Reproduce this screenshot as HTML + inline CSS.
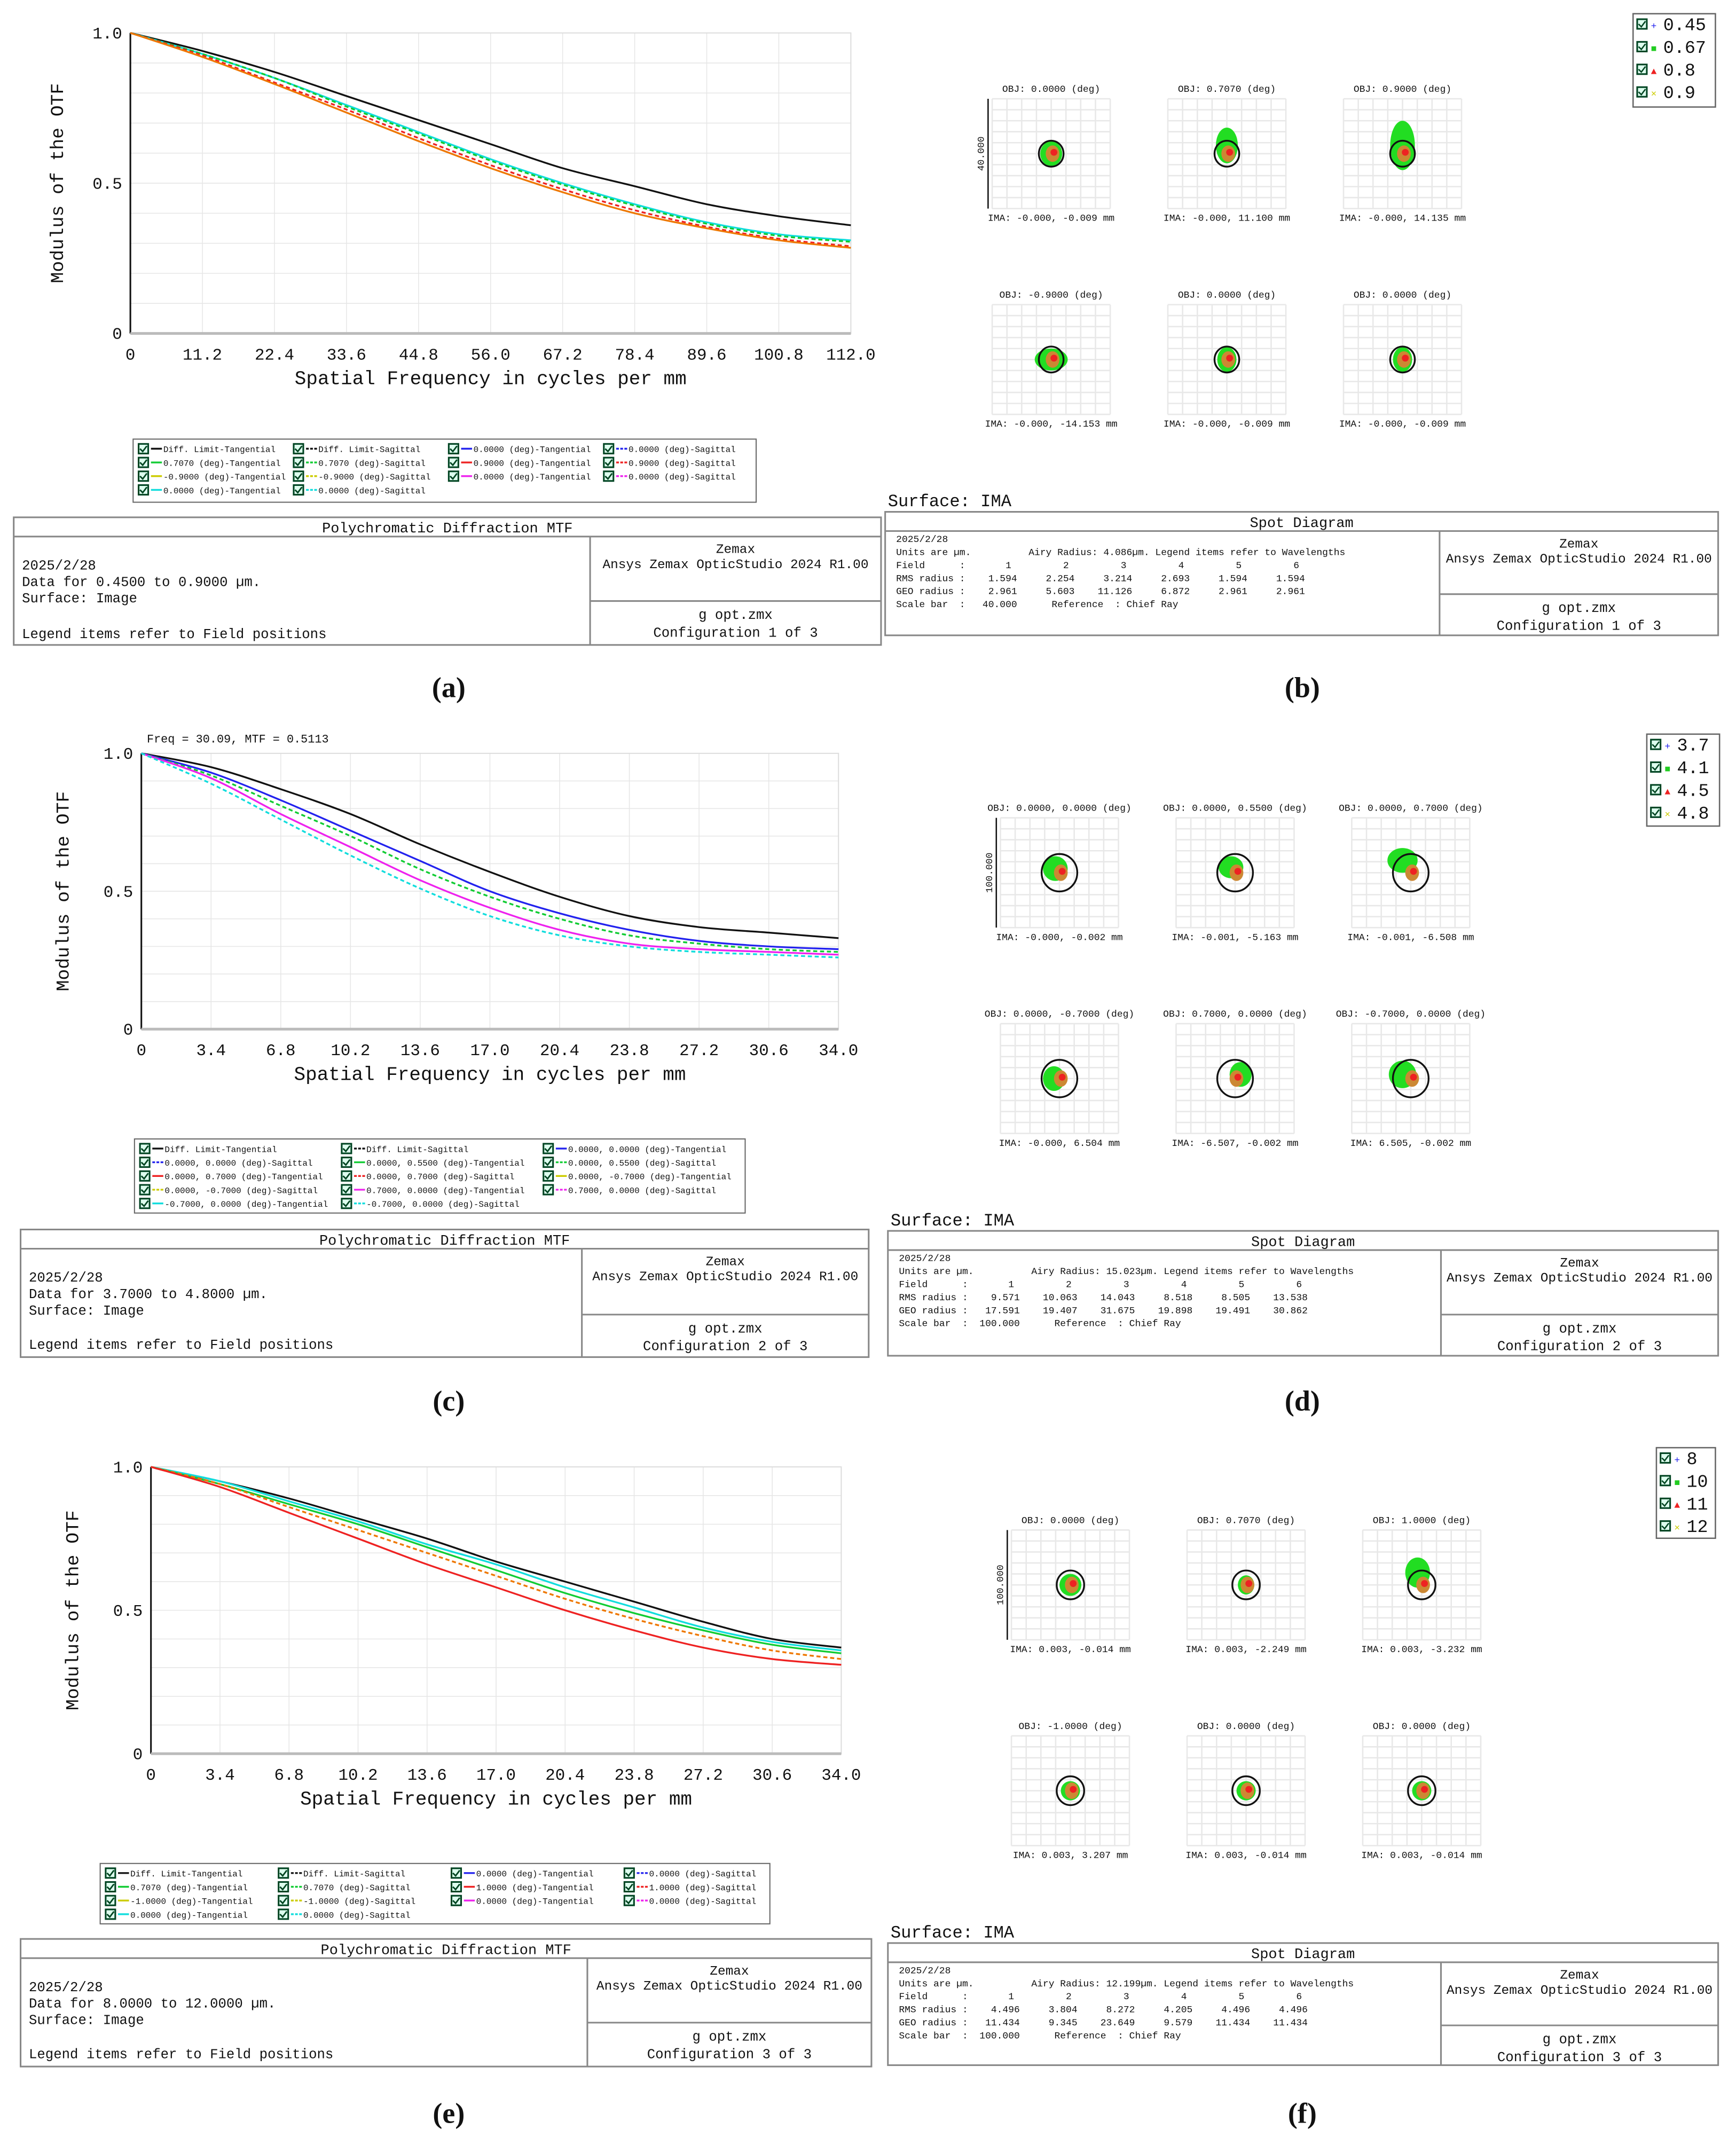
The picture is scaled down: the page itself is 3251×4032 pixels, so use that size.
<!DOCTYPE html>
<html><head><meta charset="utf-8"><style>
html,body{margin:0;padding:0;background:#fff;}
svg{display:block;}
text{font-family:"Liberation Mono",monospace;fill:#111;}
</style></head><body>
<svg id="fig" xmlns="http://www.w3.org/2000/svg" width="3251" height="4032" viewBox="0 0 1265 1569" preserveAspectRatio="none">
<rect width="1265" height="1569" fill="#fff"/>
</svg>
<script>
// ---- MTF data (values at each tick) ----
const ticksA = ["0","11.2","22.4","33.6","44.8","56.0","67.2","78.4","89.6","100.8","112.0"];
const ticksC = ["0","3.4","6.8","10.2","13.6","17.0","20.4","23.8","27.2","30.6","34.0"];
const ticksE = ["0","3.4","6.8","10.2","13.6","17.0","20.4","23.8","27.2","30.6","34.0"];
const mtfA_diff = [1,.94,.87,.79,.71,.63,.55,.49,.43,.39,.36];
const mtfA_cyan = [1,.93,.85,.76,.67,.58,.50,.43,.37,.33,.31];
const mtfA_green = [1,.93,.85,.755,.665,.575,.495,.425,.365,.325,.305];
const mtfA_orange = [1,.92,.83,.735,.64,.55,.47,.40,.35,.31,.285];
const mtfA_red = [1,.925,.835,.745,.65,.56,.48,.41,.355,.315,.29];
const mtfC_diff = [1,.95,.87,.78,.67,.57,.48,.41,.37,.35,.33];
const mtfC_blue = [1,.93,.83,.72,.61,.50,.42,.36,.32,.30,.29];
const mtfC_green = [1,.92,.81,.70,.58,.48,.40,.34,.31,.29,.28];
const mtfC_magenta = [1,.91,.78,.66,.54,.44,.36,.31,.29,.28,.27];
const mtfC_cyan = [1,.89,.76,.63,.51,.41,.34,.30,.28,.27,.26];
const mtfE_diff = [1,.95,.89,.82,.75,.67,.60,.53,.46,.40,.37];
const mtfE_cyan = [1,.95,.88,.81,.73,.66,.58,.51,.44,.39,.36];
const mtfE_green = [1,.94,.87,.80,.72,.64,.56,.49,.43,.38,.35];
const mtfE_orange = [1,.94,.86,.78,.70,.62,.54,.47,.41,.36,.33];
const mtfE_red = [1,.93,.84,.75,.66,.58,.50,.43,.37,.33,.31];

const NS="http://www.w3.org/2000/svg";
const svg=document.getElementById('fig');
function mk(tag,attrs,parent,txt){const e=document.createElementNS(NS,tag);for(const k in attrs)e.setAttribute(k,attrs[k]);if(txt!=null)e.textContent=txt;(parent||svg).appendChild(e);return e;}
function smooth(P){let d=`M${P[0][0]},${P[0][1]}`;for(let i=0;i<P.length-1;i++){const p0=P[Math.max(0,i-1)],p1=P[i],p2=P[i+1],p3=P[Math.min(P.length-1,i+2)];
 const c1=[p1[0]+(p2[0]-p0[0])/6,p1[1]+(p2[1]-p0[1])/6],c2=[p2[0]-(p3[0]-p1[0])/6,p2[1]-(p3[1]-p1[1])/6];
 d+=` C${c1[0]},${c1[1]} ${c2[0]},${c2[1]} ${p2[0]},${p2[1]}`;}return d;}

function mtfPanel(name,P,ticks,series,legendRows,cfg){
  const g=mk('g',{});
  
  
  const xs=i=>P.x0+(P.x1-P.x0)*i/(ticks.length-1);
  const ys=v=>P.y1-(P.y1-P.y0)*v;
  for(let i=1;i<ticks.length;i++) mk('line',{x1:xs(i),x2:xs(i),y1:P.y0,y2:P.y1,stroke:'#e6e6e6','stroke-width':0.6},g);
  for(let i=1;i<10;i++){mk('line',{x1:P.x0,x2:P.x1,y1:ys(i/10),y2:ys(i/10),stroke:'#e6e6e6','stroke-width':0.6},g);}
  mk('rect',{x:P.x0,y:P.y0,width:P.x1-P.x0,height:P.y1-P.y0,fill:'none',stroke:'#ddd','stroke-width':0.8},g);
  const ax=mk('line',{x1:P.x0,x2:P.x0,y1:P.y0,y2:P.y1,stroke:'#111','stroke-width':1.2},g);
  
  const bx=mk('line',{x1:P.x0,x2:P.x1,y1:P.y1,y2:P.y1,stroke:'#bbb','stroke-width':2},g);
  
  ticks.forEach((t,i)=>{const e=mk('text',{x:xs(i),y:P.y1+19,'font-size':12,'text-anchor':'middle'},g,t);
    });
  [["1.0",1],["0.5",.5],["0",0]].forEach(([t,v])=>{const e=mk('text',{x:P.x0-6,y:ys(v)+4,'font-size':12,'text-anchor':'end'},g,t);
    });
  const yt=mk('text',{x:0,y:0,'font-size':13.5,'text-anchor':'middle',transform:`translate(${P.ylx},${(P.y0+P.y1)/2}) rotate(-90)`},g,'Modulus of the OTF');
  
  const xt=mk('text',{x:(P.x0+P.x1)/2,y:P.y1+37,'font-size':14,'text-anchor':'middle'},g,'Spatial Frequency in cycles per mm');
  
  series.forEach(s=>{
    const pts=s.v.map((v,i)=>[xs(i),ys(v)]);
    const l=mk('path',{d:smooth(pts),fill:'none',stroke:s.c,'stroke-width':1.3,'stroke-dasharray':s.d||'none'},g);
    
  });
  const L=cfg.leg;
  const lb=mk('rect',{x:L.x,y:L.y,width:L.w,height:L.h,fill:'#fff',stroke:'#666','stroke-width':0.8},g);
  
  legendRows.forEach((row,r)=>row.forEach((it,c)=>{
    const x=L.x+4+c*L.cw, y=L.y+7+r*10;
    const cb=mk('rect',{x:x,y:y-3.5,width:7,height:7,fill:'#dfe',stroke:'#042','stroke-width':1.2},g);
    
    mk('path',{d:`M${x+1} ${y} l2 2 l3 -4`,stroke:'#042',fill:'none','stroke-width':1.1},g);
    mk('line',{x1:x+9,x2:x+17,y1:y,y2:y,stroke:it[1],'stroke-width':1.3,'stroke-dasharray':it[2]?'2,1':'none'},g);
    const e=mk('text',{x:x+18,y:y+2.5,'font-size':6.2},g,it[0]);
    
  }));
  infoBox(g,cfg.box,'Polychromatic Diffraction MTF',cfg.leftLines,cfg.conf);
  return g;
}
function infoBox(g,B,title,left,conf){
  const r=mk('rect',{x:B.x,y:B.y,width:B.w,height:B.h,fill:'#fff',stroke:'#888','stroke-width':1.2},g);
  
  mk('line',{x1:B.x,x2:B.x+B.w,y1:B.y+14,y2:B.y+14,stroke:'#888','stroke-width':1.2},g);
  const t=mk('text',{x:B.x+B.w/2,y:B.y+11,'font-size':10.5,'text-anchor':'middle'},g,title);
  
  mk('line',{x1:B.rx,x2:B.rx,y1:B.y+14,y2:B.y+B.h,stroke:'#888','stroke-width':1.2},g);
  mk('line',{x1:B.rx,x2:B.x+B.w,y1:B.y+B.sy,y2:B.y+B.sy,stroke:'#888','stroke-width':1.2},g);
  const cx=(B.rx+B.x+B.w)/2;
  mk('text',{x:cx,y:B.y+26,'font-size':9.5,'text-anchor':'middle'},g,'Zemax');
  mk('text',{x:cx,y:B.y+37,'font-size':9.5,'text-anchor':'middle'},g,'Ansys Zemax OpticStudio 2024 R1.00');
  mk('text',{x:cx,y:B.y+B.sy+13,'font-size':10,'text-anchor':'middle'},g,'g opt.zmx');
  const cf=mk('text',{x:cx,y:B.y+B.sy+26,'font-size':10,'text-anchor':'middle'},g,conf);
  
  left.forEach(([s,dy,fs])=>mk('text',{x:B.x+6,y:B.y+dy,'font-size':fs},g,s));
}
const K='#111',CY='#1dd',GR='#1c3',OR='#e70',RD='#e22',BL='#22e',MG='#e2e',YL='#cc0';

mtfPanel('mtf-chart-a',{x0:95,x1:620,y0:24,y1:243,ylx:46},ticksA,[
 {n:'series-diff-limit',v:mtfA_diff,c:K},{n:'series-cyan',v:mtfA_cyan,c:CY},{n:'series-green',v:mtfA_green,c:GR,d:'3,2'},
 {n:'series-red',v:mtfA_red,c:RD,d:'3,2'},{n:'series-orange',v:mtfA_orange,c:OR}],
 [[["Diff. Limit-Tangential",K],["Diff. Limit-Sagittal",K,1],["0.0000 (deg)-Tangential",BL],["0.0000 (deg)-Sagittal",BL,1]],
  [["0.7070 (deg)-Tangential",GR],["0.7070 (deg)-Sagittal",GR,1],["0.9000 (deg)-Tangential",RD],["0.9000 (deg)-Sagittal",RD,1]],
  [["-0.9000 (deg)-Tangential",YL],["-0.9000 (deg)-Sagittal",YL,1],["0.0000 (deg)-Tangential",MG],["0.0000 (deg)-Sagittal",MG,1]],
  [["0.0000 (deg)-Tangential",CY],["0.0000 (deg)-Sagittal",CY,1]]],
 {leg:{x:97,y:320,w:454,h:46,cw:113},box:{x:10,y:377,w:632,h:93,rx:430,sy:61},conf:'Configuration 1 of 3',
  leftLines:[["2025/2/28",38,10],["Data for 0.4500 to 0.9000 µm.",50,10],["Surface: Image",62,10],["Legend items refer to Field positions",88,10]]});

mtfPanel('mtf-chart-c',{x0:103,x1:611,y0:549,y1:750,ylx:50},ticksC,[
 {n:'series-diff-limit',v:mtfC_diff,c:K},{n:'series-blue',v:mtfC_blue,c:BL},{n:'series-green',v:mtfC_green,c:GR,d:'3,2'},
 {n:'series-magenta',v:mtfC_magenta,c:MG},{n:'series-cyan',v:mtfC_cyan,c:CY,d:'3,2'}],
 [[["Diff. Limit-Tangential",K],["Diff. Limit-Sagittal",K,1],["0.0000, 0.0000 (deg)-Tangential",BL]],
  [["0.0000, 0.0000 (deg)-Sagittal",BL,1],["0.0000, 0.5500 (deg)-Tangential",GR],["0.0000, 0.5500 (deg)-Sagittal",GR,1]],
  [["0.0000, 0.7000 (deg)-Tangential",RD],["0.0000, 0.7000 (deg)-Sagittal",RD,1],["0.0000, -0.7000 (deg)-Tangential",YL]],
  [["0.0000, -0.7000 (deg)-Sagittal",YL,1],["0.7000, 0.0000 (deg)-Tangential",MG],["0.7000, 0.0000 (deg)-Sagittal",MG,1]],
  [["-0.7000, 0.0000 (deg)-Tangential",CY],["-0.7000, 0.0000 (deg)-Sagittal",CY,1]]],
 {leg:{x:98,y:830,w:445,h:54,cw:147},box:{x:15,y:896,w:618,h:93,rx:424,sy:62},conf:'Configuration 2 of 3',
  leftLines:[["2025/2/28",38,10],["Data for 3.7000 to 4.8000 µm.",50,10],["Surface: Image",62,10],["Legend items refer to Field positions",87,10]]});
mk('text',{x:107,y:541,'font-size':8.5},null,'Freq = 30.09, MTF = 0.5113');

mtfPanel('mtf-chart-e',{x0:110,x1:613,y0:1069,y1:1278,ylx:57},ticksE,[
 {n:'series-diff-limit',v:mtfE_diff,c:K},{n:'series-cyan',v:mtfE_cyan,c:CY},{n:'series-green',v:mtfE_green,c:GR},
 {n:'series-orange',v:mtfE_orange,c:OR,d:'3,2'},{n:'series-red',v:mtfE_red,c:RD}],
 [[["Diff. Limit-Tangential",K],["Diff. Limit-Sagittal",K,1],["0.0000 (deg)-Tangential",BL],["0.0000 (deg)-Sagittal",BL,1]],
  [["0.7070 (deg)-Tangential",GR],["0.7070 (deg)-Sagittal",GR,1],["1.0000 (deg)-Tangential",RD],["1.0000 (deg)-Sagittal",RD,1]],
  [["-1.0000 (deg)-Tangential",YL],["-1.0000 (deg)-Sagittal",YL,1],["0.0000 (deg)-Tangential",MG],["0.0000 (deg)-Sagittal",MG,1]],
  [["0.0000 (deg)-Tangential",CY],["0.0000 (deg)-Sagittal",CY,1]]],
 {leg:{x:73,y:1358,w:488,h:44,cw:126},box:{x:15,y:1413,w:620,h:93,rx:428,sy:61},conf:'Configuration 3 of 3',
  leftLines:[["2025/2/28",38,10],["Data for 8.0000 to 12.0000 µm.",50,10],["Surface: Image",62,10],["Legend items refer to Field positions",87,10]]});

// ---- Spot diagrams ----
const spotA_obj=["OBJ: 0.0000 (deg)","OBJ: 0.7070 (deg)","OBJ: 0.9000 (deg)","OBJ: -0.9000 (deg)","OBJ: 0.0000 (deg)","OBJ: 0.0000 (deg)"];
const spotA_ima=["IMA: -0.000, -0.009 mm","IMA: -0.000, 11.100 mm","IMA: -0.000, 14.135 mm","IMA: -0.000, -14.153 mm","IMA: -0.000, -0.009 mm","IMA: -0.000, -0.009 mm"];
const spotD_obj=["OBJ: 0.0000, 0.0000 (deg)","OBJ: 0.0000, 0.5500 (deg)","OBJ: 0.0000, 0.7000 (deg)","OBJ: 0.0000, -0.7000 (deg)","OBJ: 0.7000, 0.0000 (deg)","OBJ: -0.7000, 0.0000 (deg)"];
const spotD_ima=["IMA: -0.000, -0.002 mm","IMA: -0.001, -5.163 mm","IMA: -0.001, -6.508 mm","IMA: -0.000, 6.504 mm","IMA: -6.507, -0.002 mm","IMA: 6.505, -0.002 mm"];
const spotF_obj=["OBJ: 0.0000 (deg)","OBJ: 0.7070 (deg)","OBJ: 1.0000 (deg)","OBJ: -1.0000 (deg)","OBJ: 0.0000 (deg)","OBJ: 0.0000 (deg)"];
const spotF_ima=["IMA: 0.003, -0.014 mm","IMA: 0.003, -2.249 mm","IMA: 0.003, -3.232 mm","IMA: 0.003, 3.207 mm","IMA: 0.003, -0.014 mm","IMA: 0.003, -0.014 mm"];

function spotPanel(name,cfg){
  const g=mk('g',{});
  
  
  const W=86,H=80;
  for(let k=0;k<6;k++){
    const x=cfg.cols[k%3], y=cfg.rows[Math.floor(k/3)];
    const c=mk('g',{},g);
    
    for(let i=0;i<=8;i++) mk('line',{x1:x+i*W/8,x2:x+i*W/8,y1:y,y2:y+H,stroke:'#e8e8e8','stroke-width':1},c);
    for(let j=0;j<=10;j++) mk('line',{x1:x,x2:x+W,y1:y+j*H/10,y2:y+j*H/10,stroke:'#e8e8e8','stroke-width':1},c);
    const cx=x+W/2,cy=y+H/2;
    const b=cfg.blob[k];
    mk('ellipse',{cx:cx+b[0],cy:cy+b[1],rx:b[2],ry:b[3],fill:'#2d2'},c);
    mk('ellipse',{cx:cx+1,cy:cy,rx:5,ry:6,fill:'#c83'},c);
    mk('circle',{cx:cx+2,cy:cy-1,r:2.5,fill:'#e22'},c);
    mk('ellipse',{cx:cx,cy:cy,rx:cfg.r,ry:cfg.r*1.05,fill:'none',stroke:'#111','stroke-width':1.3},c);
    mk('text',{x:cx,y:y-5,'font-size':7,'text-anchor':'middle'},c,cfg.obj[k]);
    mk('text',{x:cx,y:y+H+9,'font-size':7,'text-anchor':'middle'},c,cfg.ima[k]);
  }
  const sx=cfg.cols[0]-3;
  mk('line',{x1:sx,x2:sx,y1:cfg.rows[0],y2:cfg.rows[0]+80,stroke:'#111','stroke-width':1},g);
  mk('text',{x:0,y:0,'font-size':7,'text-anchor':'middle',transform:`translate(${sx-3},${cfg.rows[0]+40}) rotate(-90)`},g,cfg.scale);
  const L=cfg.leg;
  const lr=mk('rect',{x:L.x,y:L.y,width:L.w,height:L.h,fill:'#fff',stroke:'#666','stroke-width':1},g);
  
  const cols=['#22e','#2c2','#e22','#cc0'],sym=['+','■','▲','×'];
  cfg.waves.forEach((w,i)=>{const y=L.y+11+i*16.5;
    const cb=mk('rect',{x:L.x+3,y:y-7,width:7,height:7,fill:'#dfe',stroke:'#042','stroke-width':1.2},g);
    
    mk('path',{d:`M${L.x+4} ${y-3.5} l2 2 l3 -4`,stroke:'#042',fill:'none','stroke-width':1},g);
    mk('text',{x:L.x+13,y:y,'font-size':7,style:'fill:'+cols[i]},g,sym[i]);
    const e=mk('text',{x:L.x+22,y:y+1,'font-size':13},g,w);
    });
  mk('text',{x:cfg.box.x+2,y:cfg.box.y-4,'font-size':12.5},g,'Surface: IMA');
  const B=cfg.box;
  infoBox(g,B,'Spot Diagram',[],cfg.conf);
  const T=cfg.tbl,fs=7,x0=B.x+8,y0=B.y+22;
  const lines=["2025/2/28","Units are µm.          Airy Radius: "+T.airy+"µm. Legend items refer to Wavelengths",
    "Field      :       1         2         3         4         5         6",
    "RMS radius :  "+T.rms.map(v=>v.padStart(7)).join("   "),
    "GEO radius :  "+T.geo.map(v=>v.padStart(7)).join("   "),
    "Scale bar  :  "+T.scale.padStart(7)+"      Reference  : Chief Ray"];
  lines.forEach((l,i)=>{const e=mk('text',{x:x0,y:y0+i*9.5,'font-size':fs},g,l);e.style.whiteSpace='pre';});
}
spotPanel('spot-diagram-b',{cols:[723,851,979],rows:[72,222],obj:spotA_obj,ima:spotA_ima,r:9,scale:'40.000',
 blob:[[0,0,8,9],[0,-6,8,13],[0,-6,9,18],[0,0,12,8],[0,0,7,9],[0,0,7,9]],
 leg:{x:1190,y:10,w:60,h:68},waves:['0.45','0.67','0.8','0.9'],
 box:{x:645,y:373,w:607,h:90,rx:1049,sy:60},conf:'Configuration 1 of 3',
 tbl:{airy:'4.086',rms:['1.594','2.254','3.214','2.693','1.594','1.594'],geo:['2.961','5.603','11.126','6.872','2.961','2.961'],scale:'40.000'}});
spotPanel('spot-diagram-d',{cols:[729,857,985],rows:[596,746],obj:spotD_obj,ima:spotD_ima,r:13,scale:'100.000',
 blob:[[-3,-3,9,9],[-3,-4,9,8],[-6,-9,11,9],[-4,0,8,9],[4,-3,8,9],[-6,-3,10,10]],
 leg:{x:1200,y:535,w:53,h:67},waves:['3.7','4.1','4.5','4.8'],
 box:{x:647,y:897,w:605,h:91,rx:1050,sy:61},conf:'Configuration 2 of 3',
 tbl:{airy:'15.023',rms:['9.571','10.063','14.043','8.518','8.505','13.538'],geo:['17.591','19.407','31.675','19.898','19.491','30.862'],scale:'100.000'}});
spotPanel('spot-diagram-f',{cols:[737,865,993],rows:[1115,1265],obj:spotF_obj,ima:spotF_ima,r:10,scale:'100.000',
 blob:[[0,0,8,8],[0,0,6,7],[-3,-9,9,11],[0,0,7,7],[0,0,7,7],[0,0,7,7]],
 leg:{x:1207,y:1055,w:43,h:66},waves:['8','10','11','12'],
 box:{x:647,y:1416,w:605,h:89,rx:1050,sy:60},conf:'Configuration 3 of 3',
 tbl:{airy:'12.199',rms:['4.496','3.804','8.272','4.205','4.496','4.496'],geo:['11.434','9.345','23.649','9.579','11.434','11.434'],scale:'100.000'}});

[["(a)",327,508],["(b)",949,508],["(c)",327,1028],["(d)",949,1028],["(e)",327,1547],["(f)",949,1547]].forEach(([t,x,y])=>{
  const e=mk('text',{x:x,y:y,'text-anchor':'middle'},null,t);
  
  e.style.fontFamily='"Liberation Serif",serif';e.style.fontSize='21px';e.style.fontWeight='bold';
});
</script>
</body></html>
